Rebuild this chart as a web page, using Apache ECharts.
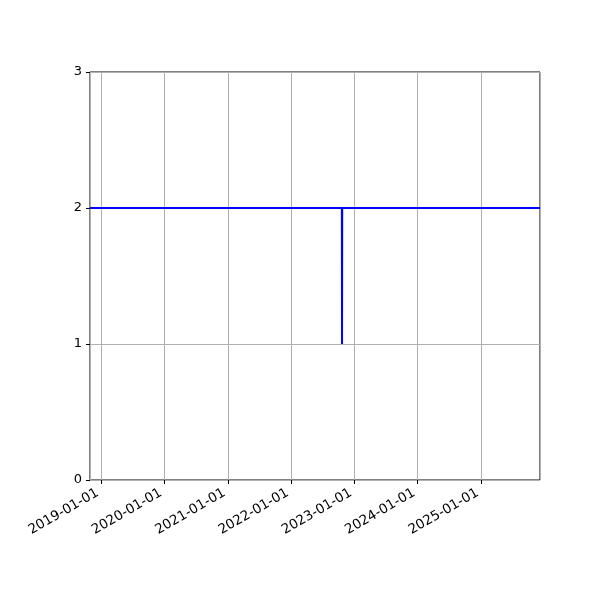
<!DOCTYPE html>
<html>
<head>
<meta charset="utf-8">
<script src="https://cdn.jsdelivr.net/npm/echarts@6/dist/echarts.min.js"></script>
<style>
html,body{margin:0;padding:0;background:#fff;}
#c{width:600px;height:600px;}
</style>
</head>
<body>
<div id="c"></div>
<script>
var dates = ['2018-10-29', '2022-10-21', '2022-10-22', '2022-10-23', '2025-12-07'];
var values = [2, 2, 1, 2, 2];
var xMin = '2018-10-29';
var xMax = '2025-12-07';
var yTicks = [0, 1, 2, 3];

function ts(s) { var p = s.split('-'); return Date.UTC(+p[0], +p[1] - 1, +p[2]); }
var data = dates.map(function (d, i) { return [ts(d), values[i]]; });
function pad(n) { return (n < 10 ? '0' : '') + n; }

var chart = echarts.init(document.getElementById('c'), null, { renderer: 'canvas' });
chart.setOption({
  animation: false,
  backgroundColor: '#fff',
  textStyle: { fontFamily: 'DejaVu Sans' },
  grid: { left: 90, right: 60, top: 72, bottom: 120, show: true, borderColor: '#000', borderWidth: 1, containLabel: false },
  xAxis: {
    type: 'time',
    useUTC: true,
    min: ts(xMin),
    max: ts(xMax),
    splitNumber: 7,
    axisLine: { show: false },
    axisTick: { show: true, length: 4, lineStyle: { color: '#000', width: 1 } },
    splitLine: { show: true, lineStyle: { color: '#b0b0b0', width: 1 } },
    axisLabel: {
      rotate: 30, color: '#000', fontSize: 13.5, margin: 10, padding: [0, 4, 0, 0],
      showMinLabel: false, showMaxLabel: false,
      formatter: function (v) { var d = new Date(v); return d.getUTCFullYear() + '-' + pad(d.getUTCMonth() + 1) + '-' + pad(d.getUTCDate()); }
    }
  },
  yAxis: {
    type: 'value',
    min: yTicks[0], max: yTicks[yTicks.length - 1], interval: 1,
    axisLine: { show: false },
    axisTick: { show: true, length: 4, lineStyle: { color: '#000', width: 1 } },
    splitLine: { show: true, lineStyle: { color: '#b0b0b0', width: 1 } },
    axisLabel: { color: '#000', fontSize: 13, margin: 8 }
  },
  series: [{
    type: 'line',
    data: data,
    showSymbol: false,
    lineStyle: { color: '#0000ff', width: 2 },
    itemStyle: { color: '#0000ff' },
    clip: true
  }]
});
</script>
</body>
</html>
